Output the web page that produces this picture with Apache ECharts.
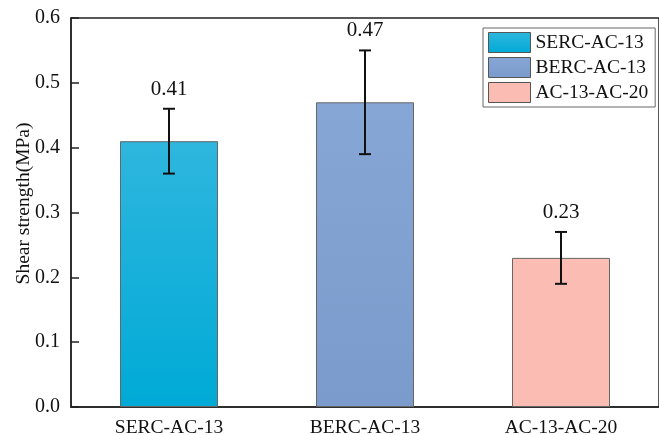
<!DOCTYPE html>
<html>
<head>
<meta charset="utf-8">
<script src="https://cdn.jsdelivr.net/npm/echarts@6/dist/echarts.min.js"></script>
<style>html,body{margin:0;padding:0;background:#fff}#c{width:659px;height:435px}</style>
</head>
<body>
<div id="c"></div>
<script>
var categories = ['SERC-AC-13', 'BERC-AC-13', 'AC-13-AC-20'];
var means = [0.41, 0.47, 0.23];
var errLow = [0.36, 0.39, 0.19];
var errHigh = [0.46, 0.55, 0.27];
var yTicks = [0, 0.1, 0.2, 0.3, 0.4, 0.5, 0.6];
var topColors = ['#2eb6de', '#86a6d6', '#fbbcb4'];
var bottomColors = ['#00aad6', '#7a9bcb', '#fbbcb4'];

var FONT = '"Liberation Serif", "Times New Roman", serif';
var chart = echarts.init(document.getElementById('c'));

var barSeries = categories.map(function (name, i) {
  var d = categories.map(function (_, j) { return j === i ? means[j] : '-'; });
  return {
    name: name,
    type: 'bar',
    data: d,
    barWidth: '50%',
    barGap: '-100%',
    itemStyle: {
      color: new echarts.graphic.LinearGradient(0, 0, 0, 1, [
        { offset: 0, color: topColors[i] },
        { offset: 1, color: bottomColors[i] }
      ]),
      borderColor: '#666',
      borderWidth: 1
    },
    emphasis: { disabled: true }
  };
});

var errData = categories.map(function (_, i) { return [i, errLow[i], errHigh[i], means[i]]; });

var errSeries = {
  type: 'custom',
  data: errData,
  z: 10,
  silent: true,
  renderItem: function (params, api) {
    var x = api.value(0);
    var lo = api.coord([x, api.value(1)]);
    var hi = api.coord([x, api.value(2)]);
    var cap = 6;
    var st = { stroke: '#111', lineWidth: 2 };
    return {
      type: 'group',
      children: [
        { type: 'line', shape: { x1: lo[0], y1: lo[1], x2: hi[0], y2: hi[1] }, style: st },
        { type: 'line', shape: { x1: lo[0] - cap, y1: lo[1], x2: lo[0] + cap, y2: lo[1] }, style: st },
        { type: 'line', shape: { x1: hi[0] - cap, y1: hi[1], x2: hi[0] + cap, y2: hi[1] }, style: st },
        { type: 'text', x: hi[0], y: hi[1] - 9,
          style: { text: api.value(3).toFixed(2), fill: '#111', font: '21px ' + FONT, textAlign: 'center', textVerticalAlign: 'bottom' } }
      ]
    };
  }
};

chart.setOption({
  animation: false,
  grid: { left: 71, right: 0, top: 18, bottom: 28, show: true, borderColor: '#222', borderWidth: 1.5, containLabel: false, outerBoundsMode: 'none' },
  legend: {
    data: categories,
    orient: 'vertical',
    left: 483, top: 28,
    itemWidth: 42, itemHeight: 20, itemGap: 4,
    padding: [4, 7, 4, 5],
    borderColor: '#666', borderWidth: 1,
    icon: 'rect',
    itemStyle: { borderColor: '#555', borderWidth: 1 },
    textStyle: { fontFamily: FONT, fontSize: 19.5, color: '#111' },
    selectedMode: false
  },
  xAxis: {
    type: 'category',
    data: categories,
    axisTick: { show: false },
    axisLine: { lineStyle: { color: '#222', width: 1.5 } },
    axisLabel: { fontFamily: FONT, fontSize: 19.5, color: '#111', margin: 11 }
  },
  yAxis: {
    type: 'value',
    min: 0, max: 0.6, interval: 0.1,
    name: 'Shear strength(MPa)',
    nameLocation: 'middle',
    nameGap: 37,
    nameMoveOverlap: false,
    nameTextStyle: { fontFamily: FONT, fontSize: 19.5, color: '#111', padding: [0, 0, 0, 18] },
    splitLine: { show: false },
    axisLine: { show: true, lineStyle: { color: '#222', width: 1.5 } },
    axisTick: { show: true, inside: true, length: 8, lineStyle: { color: '#222', width: 1.5 } },
    axisLabel: {
      fontFamily: FONT, fontSize: 20, color: '#111', margin: 11,
      formatter: function (v) { return yTicks.indexOf(Math.round(v * 10) / 10) >= 0 ? v.toFixed(1) : ''; }
    }
  },
  series: barSeries.concat([errSeries])
});
</script>
</body>
</html>
